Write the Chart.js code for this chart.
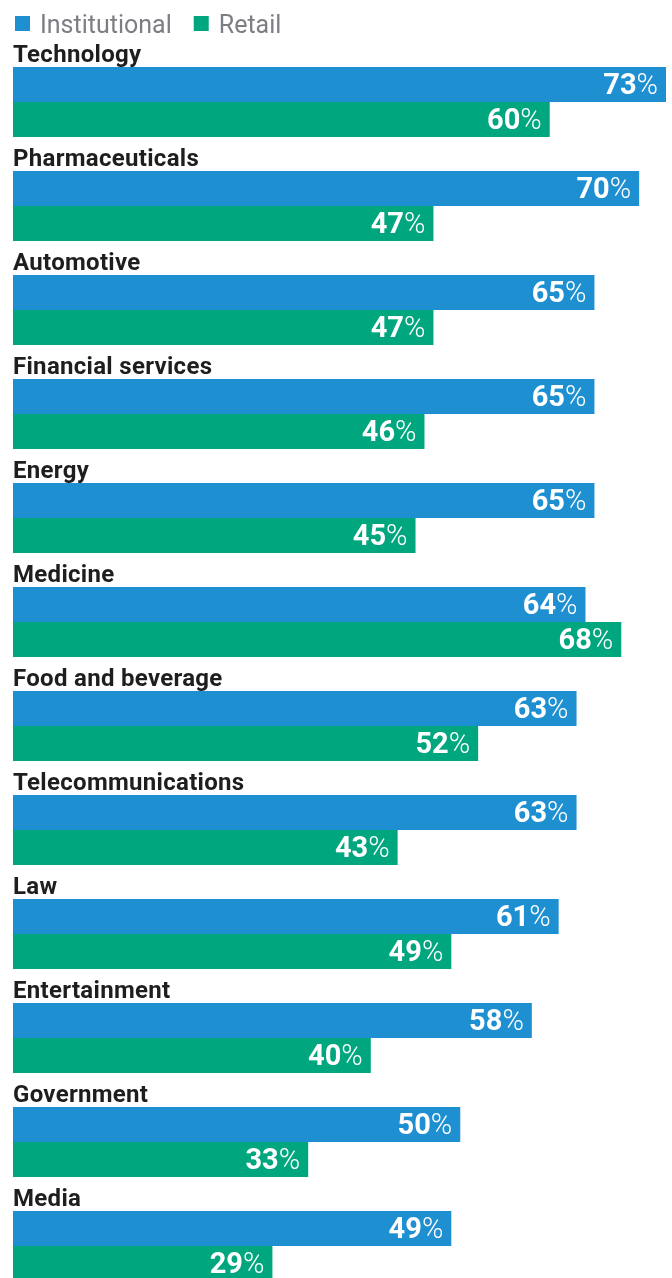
<!DOCTYPE html>
<html>
<head>
<meta charset="utf-8">
<script src="https://cdn.jsdelivr.net/npm/chart.js@4.4.1/dist/chart.umd.min.js"></script>
<style>
  html, body { margin: 0; padding: 0; background: #fff; overflow: hidden; }
  #wrap { position: relative; width: 672px; height: 1300px; }
</style>
</head>
<body>
<div id="wrap"><canvas id="chart"></canvas></div>
<script>
const categories = ['Technology', 'Pharmaceuticals', 'Automotive', 'Financial services', 'Energy', 'Medicine',
    'Food and beverage', 'Telecommunications', 'Law', 'Entertainment', 'Government', 'Media']
const institutional = [73, 70, 65, 65, 65, 64, 63, 63, 61, 58, 50, 49]
const retail = [60, 47, 47, 46, 45, 68, 52, 43, 49, 40, 33, 29]

const blue = '#1e8fd0'
const green = '#00a67e'
const fontFamily = 'Roboto, "Noto Sans", sans-serif'

// legend at top, category names above each pair, values inside bar ends
const labelsPlugin = {
    id: 'labels',
    afterDatasetsDraw(chart) {
        const ctx = chart.ctx
        const y = chart.scales.y
        ctx.save()

        // legend
        ctx.textBaseline = 'alphabetic'
        ctx.font = '400 25px ' + fontFamily
        let lx = 15
        chart.data.datasets.forEach(ds => {
            ctx.fillStyle = ds.backgroundColor
            ctx.fillRect(lx, 16, 15, 15)
            ctx.fillStyle = '#7d7d84'
            ctx.fillText(ds.label, lx + 25, 33)
            lx += 25 + ctx.measureText(ds.label).width + 22
        })

        // category names
        ctx.fillStyle = '#1e1e1e'
        ctx.font = '700 24px ' + fontFamily
        ctx.letterSpacing = '0.3px'
        categories.forEach((c, i) => {
            ctx.fillText(c, 13, y.getPixelForValue(i) - 40)
        })
        ctx.letterSpacing = '0px'

        // values
        ctx.fillStyle = '#fff'
        ctx.textBaseline = 'middle'
        chart.data.datasets.forEach((ds, di) => {
            chart.getDatasetMeta(di).data.forEach((bar, i) => {
                const num = String(ds.data[i])
                const x = bar.x - 8
                ctx.font = '300 29px ' + fontFamily
                const pw = ctx.measureText('%').width
                ctx.fillText('%', x - pw, bar.y + 2)
                ctx.font = '700 29px ' + fontFamily
                const nw = ctx.measureText(num).width
                ctx.fillText(num, x - pw - nw, bar.y + 2)
            })
        })
        ctx.restore()
    }
}

new Chart(document.getElementById('chart'), {
    type: 'bar',
    data: {
        labels: categories,
        datasets: [
            { label: 'Institutional', data: institutional, backgroundColor: blue },
            { label: 'Retail', data: retail, backgroundColor: green }
        ]
    },
    options: {
        indexAxis: 'y',
        responsive: true,
        maintainAspectRatio: false,
        animation: false,
        categoryPercentage: 70 / 104,
        barPercentage: 1,
        layout: { padding: { left: 13, right: 6, top: 50, bottom: 2 } },
        scales: {
            x: { display: false, min: 0, max: 73 },
            y: { display: false }
        },
        plugins: {
            legend: { display: false },
            tooltip: { enabled: false }
        }
    },
    plugins: [labelsPlugin]
})
</script>
</body>
</html>
